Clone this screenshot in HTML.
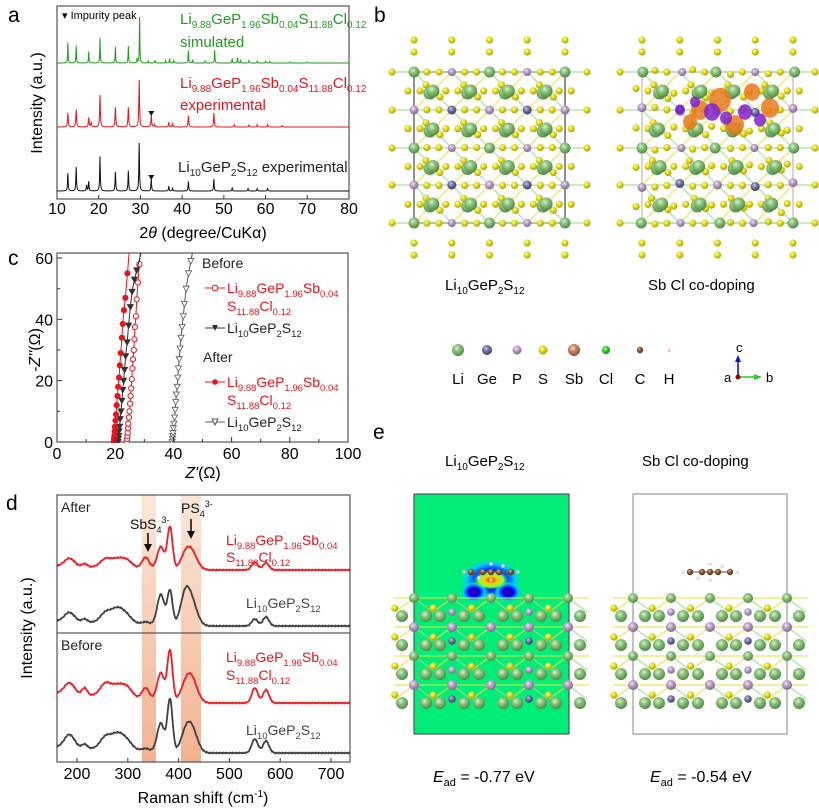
<!DOCTYPE html>
<html><head><meta charset="utf-8"><style>
body{margin:0;background:#fff}
svg{display:block;font-family:"Liberation Sans",Arial,sans-serif}
</style></head><body>
<svg id="fig" width="819" height="808" viewBox="0 0 819 808">
<defs>
<radialGradient id="gLi" cx="40%" cy="35%" r="65%"><stop offset="0" stop-color="#d8f0d0"/><stop offset="0.4" stop-color="#8cc47c"/><stop offset="1" stop-color="#4f8a45"/></radialGradient>
<radialGradient id="gS" cx="40%" cy="35%" r="65%"><stop offset="0" stop-color="#ffffb0"/><stop offset="0.4" stop-color="#e8e020"/><stop offset="1" stop-color="#a8a000"/></radialGradient>
<radialGradient id="gGe" cx="40%" cy="35%" r="65%"><stop offset="0" stop-color="#c8c8e8"/><stop offset="0.45" stop-color="#7070a0"/><stop offset="1" stop-color="#40406a"/></radialGradient>
<radialGradient id="gP" cx="40%" cy="35%" r="65%"><stop offset="0" stop-color="#f0e4f4"/><stop offset="0.45" stop-color="#b89cc4"/><stop offset="1" stop-color="#806890"/></radialGradient>
<radialGradient id="gSb" cx="40%" cy="35%" r="65%"><stop offset="0" stop-color="#f8dcc8"/><stop offset="0.45" stop-color="#c8845c"/><stop offset="1" stop-color="#8a5434"/></radialGradient>
<radialGradient id="gCl" cx="40%" cy="35%" r="65%"><stop offset="0" stop-color="#b0ffb0"/><stop offset="0.45" stop-color="#30d030"/><stop offset="1" stop-color="#109010"/></radialGradient>
<radialGradient id="gC" cx="40%" cy="35%" r="65%"><stop offset="0" stop-color="#d8b8a0"/><stop offset="0.45" stop-color="#845838"/><stop offset="1" stop-color="#503018"/></radialGradient>
<radialGradient id="gH" cx="40%" cy="35%" r="65%"><stop offset="0" stop-color="#fff"/><stop offset="1" stop-color="#e0b8b8"/></radialGradient>
<radialGradient id="cdd" cx="50%" cy="50%" r="50%"><stop offset="0" stop-color="#ff0000"/><stop offset="0.35" stop-color="#ffcc00"/><stop offset="0.7" stop-color="#80ff40"/><stop offset="1" stop-color="#00ee77" stop-opacity="0"/></radialGradient>
<radialGradient id="cdb" cx="50%" cy="50%" r="50%"><stop offset="0" stop-color="#400080"/><stop offset="0.4" stop-color="#0000ff"/><stop offset="0.75" stop-color="#00ccff"/><stop offset="1" stop-color="#00ee77" stop-opacity="0"/></radialGradient>
<linearGradient id="band" x1="0" y1="0" x2="0" y2="1"><stop offset="0" stop-color="#fbe3d3"/><stop offset="1" stop-color="#f0a47c"/></linearGradient>
<clipPath id="clipC"><rect x="57" y="253" width="291" height="190"/></clipPath>
<clipPath id="clipE"><rect x="414" y="494" width="155" height="240"/></clipPath>
</defs>

<text x="8" y="22" font-size="21">a</text>
<text x="374" y="22" font-size="21">b</text>
<text x="8" y="265" font-size="21">c</text>
<text x="6" y="510" font-size="21">d</text>
<text x="373" y="439" font-size="21">e</text>

<!-- Panel a -->
<g id="pa">
<rect x="57" y="6" width="292" height="193" fill="none" stroke="#333" stroke-width="1"/>
<g id="pa-series"></g>
<g id="pa-ticks"></g>
<text x="42" y="103" font-size="16" text-anchor="middle" transform="rotate(-90 42 103)">Intensity (a.u.)</text>
<text x="203" y="238" font-size="16" text-anchor="middle">2<tspan font-style="italic">θ</tspan> (degree/CuKα)</text>
<text x="62" y="19" font-size="11">▾ Impurity peak</text>
<text x="180" y="24" font-size="15" fill="#1f9a1f">Li<tspan font-size="10" dy="4">9.88</tspan><tspan dy="-4">GeP</tspan><tspan font-size="10" dy="4">1.96</tspan><tspan dy="-4">Sb</tspan><tspan font-size="10" dy="4">0.04</tspan><tspan dy="-4">S</tspan><tspan font-size="10" dy="4">11.88</tspan><tspan dy="-4">Cl</tspan><tspan font-size="10" dy="4">0.12</tspan></text>
<text x="180" y="47" font-size="15" fill="#1f9a1f">simulated</text>
<text x="180" y="88" font-size="15" fill="#e8141c">Li<tspan font-size="10" dy="4">9.88</tspan><tspan dy="-4">GeP</tspan><tspan font-size="10" dy="4">1.96</tspan><tspan dy="-4">Sb</tspan><tspan font-size="10" dy="4">0.04</tspan><tspan dy="-4">S</tspan><tspan font-size="10" dy="4">11.88</tspan><tspan dy="-4">Cl</tspan><tspan font-size="10" dy="4">0.12</tspan></text>
<text x="180" y="110" font-size="15" fill="#e8141c">experimental</text>
<text x="178" y="172" font-size="15" fill="#222">Li<tspan font-size="10" dy="4">10</tspan><tspan dy="-4">GeP</tspan><tspan font-size="10" dy="4">2</tspan><tspan dy="-4">S</tspan><tspan font-size="10" dy="4">12</tspan><tspan dy="-4"> experimental</tspan></text>
</g>

<!-- Panel c -->
<g id="pc">
<rect x="57" y="253" width="291" height="189" fill="none" stroke="#333"/>
<g id="pc-series" clip-path="url(#clipC)"></g>
<g id="pc-ticks"></g>
<text x="40" y="350" font-size="16" text-anchor="middle" transform="rotate(-90 40 350)">-<tspan font-style="italic">Z''</tspan>(Ω)</text>
<text x="203" y="478" font-size="16" text-anchor="middle"><tspan font-style="italic">Z'</tspan>(Ω)</text>
<g font-size="14">
<text x="202" y="268" fill="#222">Before</text>
<line x1="205" y1="288" x2="225" y2="288" stroke="#e8141c"/><circle cx="215" cy="288" r="2.8" fill="#fff" stroke="#e8141c"/>
<text x="227" y="293" fill="#e8141c">Li<tspan font-size="9.5" dy="4">9.88</tspan><tspan dy="-4">GeP</tspan><tspan font-size="9.5" dy="4">1.96</tspan><tspan dy="-4">Sb</tspan><tspan font-size="9.5" dy="4">0.04</tspan></text>
<text x="227" y="311" fill="#e8141c">S<tspan font-size="9.5" dy="4">11.88</tspan><tspan dy="-4">Cl</tspan><tspan font-size="9.5" dy="4">0.12</tspan></text>
<line x1="205" y1="328" x2="225" y2="328" stroke="#333"/><path d="M212 325 L218 325 L215 331Z" fill="#333"/>
<text x="227" y="333" fill="#222">Li<tspan font-size="9.5" dy="4">10</tspan><tspan dy="-4">GeP</tspan><tspan font-size="9.5" dy="4">2</tspan><tspan dy="-4">S</tspan><tspan font-size="9.5" dy="4">12</tspan></text>
<text x="203" y="362" fill="#222">After</text>
<line x1="205" y1="382" x2="225" y2="382" stroke="#e8141c"/><circle cx="215" cy="382" r="2.8" fill="#e8141c"/>
<text x="227" y="387" fill="#e8141c">Li<tspan font-size="9.5" dy="4">9.88</tspan><tspan dy="-4">GeP</tspan><tspan font-size="9.5" dy="4">1.96</tspan><tspan dy="-4">Sb</tspan><tspan font-size="9.5" dy="4">0.04</tspan></text>
<text x="227" y="405" fill="#e8141c">S<tspan font-size="9.5" dy="4">11.88</tspan><tspan dy="-4">Cl</tspan><tspan font-size="9.5" dy="4">0.12</tspan></text>
<line x1="205" y1="422" x2="225" y2="422" stroke="#666"/><path d="M212 419 L218 419 L215 425Z" fill="#fff" stroke="#555"/>
<text x="227" y="427" fill="#222">Li<tspan font-size="9.5" dy="4">10</tspan><tspan dy="-4">GeP</tspan><tspan font-size="9.5" dy="4">2</tspan><tspan dy="-4">S</tspan><tspan font-size="9.5" dy="4">12</tspan></text>
</g>
</g>

<!-- Panel d -->
<g id="pd">
<rect x="142" y="495" width="14" height="267" fill="url(#band)" opacity="0.85"/>
<rect x="181" y="495" width="20" height="267" fill="url(#band)" opacity="0.85"/>
<g id="pd-series"></g>
<rect x="57" y="495" width="293" height="267" fill="none" stroke="#333"/>
<line x1="57" y1="633" x2="350" y2="633" stroke="#333"/>
<g id="pd-ticks"></g>
<text x="32" y="628" font-size="16" text-anchor="middle" transform="rotate(-90 32 628)">Intensity (a.u.)</text>
<text x="203" y="803" font-size="16" text-anchor="middle">Raman shift (cm<tspan font-size="10" dy="-6">-1</tspan><tspan dy="6">)</tspan></text>
<text x="61" y="512" font-size="14" fill="#222">After</text>
<text x="61" y="650" font-size="14" fill="#222">Before</text>
<text x="130" y="529" font-size="14" fill="#111">SbS<tspan font-size="9" dy="4">4</tspan><tspan font-size="9" dy="-10">3-</tspan></text>
<text x="181" y="513" font-size="14" fill="#111">PS<tspan font-size="9" dy="4">4</tspan><tspan font-size="9" dy="-10">3-</tspan></text>
<line x1="148" y1="533" x2="148" y2="548" stroke="#111" stroke-width="1.6"/><path d="M144 544 L152 544 L148 552Z" fill="#111"/>
<line x1="191" y1="519" x2="191" y2="535" stroke="#111" stroke-width="1.6"/><path d="M187 531 L195 531 L191 539Z" fill="#111"/>
<text x="226" y="545" font-size="14" fill="#e8141c">Li<tspan font-size="9.5" dy="4">9.88</tspan><tspan dy="-4">GeP</tspan><tspan font-size="9.5" dy="4">1.96</tspan><tspan dy="-4">Sb</tspan><tspan font-size="9.5" dy="4">0.04</tspan></text>
<text x="226" y="562" font-size="14" fill="#e8141c">S<tspan font-size="9.5" dy="4">11.88</tspan><tspan dy="-4">Cl</tspan><tspan font-size="9.5" dy="4">0.12</tspan></text>
<text x="246" y="608" font-size="14" fill="#444">Li<tspan font-size="9.5" dy="4">10</tspan><tspan dy="-4">GeP</tspan><tspan font-size="9.5" dy="4">2</tspan><tspan dy="-4">S</tspan><tspan font-size="9.5" dy="4">12</tspan></text>
<text x="226" y="662" font-size="14" fill="#e8141c">Li<tspan font-size="9.5" dy="4">9.88</tspan><tspan dy="-4">GeP</tspan><tspan font-size="9.5" dy="4">1.96</tspan><tspan dy="-4">Sb</tspan><tspan font-size="9.5" dy="4">0.04</tspan></text>
<text x="226" y="680" font-size="14" fill="#e8141c">S<tspan font-size="9.5" dy="4">11.88</tspan><tspan dy="-4">Cl</tspan><tspan font-size="9.5" dy="4">0.12</tspan></text>
<text x="246" y="735" font-size="14" fill="#444">Li<tspan font-size="9.5" dy="4">10</tspan><tspan dy="-4">GeP</tspan><tspan font-size="9.5" dy="4">2</tspan><tspan dy="-4">S</tspan><tspan font-size="9.5" dy="4">12</tspan></text>
</g>

<!-- Panel b -->
<g id="pb">
<g id="pb-left"></g>
<g id="pb-right"></g>
<text x="445" y="290" font-size="15">Li<tspan font-size="10" dy="4">10</tspan><tspan dy="-4">GeP</tspan><tspan font-size="10" dy="4">2</tspan><tspan dy="-4">S</tspan><tspan font-size="10" dy="4">12</tspan></text>
<text x="648" y="290" font-size="15">Sb Cl co-doping</text>
<g id="legendAtoms"></g>
<g>
<line x1="738" y1="377" x2="738" y2="360" stroke="#1010e0" stroke-width="1.6"/><path d="M735 362 L741 362 L738 355Z" fill="#1010e0"/>
<line x1="738" y1="377" x2="756" y2="377" stroke="#20d020" stroke-width="1.6"/><path d="M754 374 L754 380 L762 377Z" fill="#20d020"/>
<circle cx="738" cy="377" r="2.5" fill="#a00000"/>
<text x="736" y="352" font-size="13">c</text><text x="724" y="382" font-size="13">a</text><text x="766" y="382" font-size="13">b</text>
</g>
</g>

<!-- Panel e -->
<g id="pe">
<text x="445" y="466" font-size="15">Li<tspan font-size="10" dy="4">10</tspan><tspan dy="-4">GeP</tspan><tspan font-size="10" dy="4">2</tspan><tspan dy="-4">S</tspan><tspan font-size="10" dy="4">12</tspan></text>
<text x="642" y="466" font-size="15">Sb Cl co-doping</text>
<rect x="414" y="494" width="155" height="240" fill="#00ee77" stroke="#555" stroke-width="1.2"/>
<g clip-path="url(#clipE)">
<ellipse cx="491" cy="580" rx="32" ry="22" fill="url(#cdb)"/>
<ellipse cx="474" cy="592" rx="14" ry="11" fill="url(#cdb)"/>
<ellipse cx="508" cy="592" rx="14" ry="11" fill="url(#cdb)"/>
<ellipse cx="491" cy="580" rx="18" ry="10" fill="url(#cdd)"/>
</g>
<rect x="633" y="494" width="154" height="240" fill="none" stroke="#999" stroke-width="1.2"/>
<g id="pe-left"></g>
<g id="pe-right"></g>
<text x="433" y="782" font-size="16"><tspan font-style="italic">E</tspan><tspan font-size="11" dy="4">ad</tspan><tspan dy="-4"> = -0.77 eV</tspan></text>
<text x="650" y="782" font-size="16"><tspan font-style="italic">E</tspan><tspan font-size="11" dy="4">ad</tspan><tspan dy="-4"> = -0.54 eV</tspan></text>
</g>
</svg>

<script>
// ===== Panel a data (XRD peak lists: 2theta, relative intensity) =====
const xrdSimPos = [12.6,14.6,17.6,20.3,24.0,27.1,29.2,29.8,31.9,33.5,36.0,37.0,38.0,41.5,42.5,45.5,47.8,52.0,53.3,54.0,56.0,58.0,60.0,61.0,66.0,70.0];
const xrdSimInt = [0.45,0.38,0.25,0.55,0.35,0.37,0.1,1.0,0.04,0.06,0.05,0.1,0.05,0.27,0.07,0.04,0.28,0.1,0.12,0.05,0.05,0.04,0.04,0.03,0.02,0.02];
const xrdDopPos = [12.6,14.6,17.6,18.2,20.3,24.0,27.1,29.7,32.6,33.4,36.8,37.7,41.5,47.6,52.5,56.0,58.0,60.5,64.0];
const xrdDopInt = [0.3,0.37,0.2,0.1,0.68,0.42,0.42,1.0,0.25,0.05,0.1,0.07,0.24,0.3,0.05,0.04,0.05,0.05,0.03];
const xrdLgpsPos = [12.6,14.6,17.1,17.6,20.3,24.0,27.1,29.7,32.6,36.8,37.7,41.5,47.6,52.0,55.8,58.0,60.5];
const xrdLgpsInt = [0.37,0.5,0.12,0.2,0.72,0.4,0.42,1.0,0.25,0.1,0.06,0.2,0.25,0.06,0.05,0.05,0.05];
const xrdImpurity = [32.6];
const xrdTicks = [10,20,30,40,50,60,70,80];

// ===== Panel c data (Nyquist: Z' , -Z'') =====
const eisBeforeDopZr = [24.0,24.1,24.2,24.3,24.4,24.5,24.7,24.9,25.1,25.3,25.5,25.7,25.9,26.1,26.4,26.6,26.8,27.1,27.4,27.8,28.3];
const eisBeforeDopZi = [0,1,2,3,4.5,6,8,10,12.5,15,17.5,20.5,24,27,30,33.5,37.5,41,46.5,52,58];
const eisBeforeLgpsZr = [21.0,21.1,21.2,21.3,21.5,21.7,22.0,22.3,22.6,22.9,23.2,23.6,24.1,24.6,25.2,25.8,26.6,27.4];
const eisBeforeLgpsZi = [0,1,2,3.5,5,7.5,10,13.5,17,20,23.5,28,32.5,38,44,49,53,56];
const eisAfterDopZr = [19.5,19.6,19.7,19.8,19.9,20.1,20.3,20.5,20.8,21.0,21.3,21.6,21.9,22.3,22.6,23.0,23.5,24.2];
const eisAfterDopZi = [0,1,2,3.5,5,7,9,12,15,18,21,25,29,34,38.5,43,47,55];
const eisAfterLgpsZr = [39.6,39.7,39.8,39.9,40.0,40.2,40.4,40.6,40.8,41.0,41.3,41.5,41.7,42.0,42.3,42.6,43.0,43.4,43.8,44.4,45.2,46.0];
const eisAfterLgpsZi = [0,1,2,3,4.5,6,8,10.5,13,15.5,18,21,24,27,30.5,34,37.5,41,45,50,55,59];
const eisXTicks = [0,20,40,60,80,100];
const eisYTicks = [0,20,40,60];

// ===== Panel d data (Raman peak lists: shift, height a.u.) =====
const ramanPeakPos = [185,215,255,280,300,335,365,383,412,425,550,572];
const ramanAfterDop  = [8,3,7,9,5,11,22,42,10,18,8,7];
const ramanAfterLgps = [9,3,8,15,4,2,30,34,24,24,7,9];
const ramanBeforeDop = [11,7,11,12,7,11,27,50,10,24,15,13];
const ramanBeforeLgps= [13,4,10,16,5,2,28,52,12,25,14,12];
const ramanTicks = [200,300,400,500,600,700];

const NS='http://www.w3.org/2000/svg';
function mk(tag, attrs, parent){const e=document.createElementNS(NS,tag);for(const k in attrs)e.setAttribute(k,attrs[k]);parent.appendChild(e);return e;}

// ---- Panel a ----
const axA = v => 57 + (v-10)*(292/70);
const paS = document.getElementById('pa-series');
function xrdPath(pos, inten, base, scale, w){
  let d='';
  for(let t=10;t<=80;t+=0.05){
    let s=0;
    for(let i=0;i<pos.length;i++){const u=(t-pos[i])/w; s+=inten[i]/(1+u*u);}
    const y = base - s*scale;
    d += (d?'L':'M')+axA(t).toFixed(2)+' '+y.toFixed(2);
  }
  return d;
}
let p;
p=mk('path',{d:xrdPath(xrdSimPos,xrdSimInt,63,46,0.07),fill:'none',stroke:'#1f9a1f','stroke-width':1},paS);


p=mk('path',{d:xrdPath(xrdDopPos,xrdDopInt,127,47,0.1),fill:'none',stroke:'#e8141c','stroke-width':1},paS);


p=mk('path',{d:xrdPath(xrdLgpsPos,xrdLgpsInt,191,48,0.09),fill:'none',stroke:'#111','stroke-width':1},paS);


xrdImpurity.forEach(v=>{
  [111,175].forEach(y=>{
    const m=mk('path',{d:`M${axA(v)-3} ${y} L${axA(v)+3} ${y} L${axA(v)} ${y+5}Z`,fill:'#111'},paS);
    
    
  });
});
const paT=document.getElementById('pa-ticks');
xrdTicks.forEach(v=>{
  mk('line',{x1:axA(v),x2:axA(v),y1:199,y2:195,stroke:'#333'},paT);
  const t=mk('text',{x:axA(v),y:214,'font-size':16,'text-anchor':'middle'},paT);
  t.textContent=v;
  
  
});

// ---- Panel c ----
const axCx = v => 57 + v*2.91;
const axCy = v => 442 - v*(184/60);
const pcS=document.getElementById('pc-series');
function eisSeries(zr, zi, color, marker, fill, name){
  const g=mk('g',{},pcS);
  
  
  const n=zr.length, dx=zr[n-1]-zr[n-2], dy=zi[n-1]-zi[n-2];
  const ext=(66-zi[n-1])/dy;
  let d=zr.map((v,i)=>(i?'L':'M')+axCx(v)+' '+axCy(zi[i])).join('')+'L'+axCx(zr[n-1]+dx*ext)+' '+axCy(66);
  mk('path',{d:d,fill:'none',stroke:color,'stroke-width':1},g);
  zr.forEach((v,i)=>{
    const x=axCx(v), y=axCy(zi[i]);
    if(marker==='c') mk('circle',{cx:x,cy:y,r:2.6,fill:fill,stroke:color,'stroke-width':1},g);
    else mk('path',{d:`M${x-3} ${y-2.5} L${x+3} ${y-2.5} L${x} ${y+3}Z`,fill:fill,stroke:color,'stroke-width':0.8},g);
  });
}
eisSeries(eisAfterLgpsZr,eisAfterLgpsZi,'#555','t','#fff','eis-after-lgps');
eisSeries(eisBeforeDopZr,eisBeforeDopZi,'#e8141c','c','#fff','eis-before-doped');
eisSeries(eisBeforeLgpsZr,eisBeforeLgpsZi,'#333','t','#333','eis-before-lgps');
eisSeries(eisAfterDopZr,eisAfterDopZi,'#e8141c','c','#e8141c','eis-after-doped');
const pcT=document.getElementById('pc-ticks');
for(let v=0;v<=100;v+=10){mk('line',{x1:axCx(v),x2:axCx(v),y1:442,y2:v%20?439:437,stroke:'#333'},pcT);}
for(let v=0;v<=60;v+=10){mk('line',{x1:57,x2:v%20?60:62,y1:axCy(v),y2:axCy(v),stroke:'#333'},pcT);}
eisXTicks.forEach(v=>{const t=mk('text',{x:axCx(v),y:459,'font-size':16,'text-anchor':'middle'},pcT);t.textContent=v;
  
  });
eisYTicks.forEach(v=>{const t=mk('text',{x:53,y:axCy(v)+6,'font-size':16,'text-anchor':'end'},pcT);t.textContent=v;
  
  });

// ---- Panel d ----
const axD = v => 77 + (v-200)*0.508;
const pdS=document.getElementById('pd-series');
const ramanWidths=[10,5,10,14,10,7,7,5,9,11,6,6];
function ramanPath(h, baseR, baseL){
  let d='';
  for(let t=160;t<=737;t+=1){
    let s=0;
    for(let i=0;i<ramanPeakPos.length;i++){const u=(t-ramanPeakPos[i])/ramanWidths[i]; s+=h[i]*Math.exp(-0.5*u*u);}
    const b=baseL+(baseR-baseL)*Math.min(1,(t-160)/300);
    const noise=((t*7919)%13-6)*0.08;
    d+=(d?'L':'M')+axD(t).toFixed(2)+' '+(b-s+noise).toFixed(2);
  }
  return d;
}
[[ramanAfterDop,570,566,'#ee1c24','raman-after-doped'],[ramanAfterLgps,626,621,'#404040','raman-after-lgps'],
 [ramanBeforeDop,703,693,'#ee1c24','raman-before-doped'],[ramanBeforeLgps,753,747,'#404040','raman-before-lgps']].forEach(s=>{
  const e=mk('path',{d:ramanPath(s[0],s[1],s[2]),fill:'none',stroke:s[3],'stroke-width':1.8},pdS);
  
  
});
const pdT=document.getElementById('pd-ticks');
ramanTicks.forEach(v=>{
  mk('line',{x1:axD(v),x2:axD(v),y1:762,y2:758,stroke:'#333'},pdT);
  const t=mk('text',{x:axD(v),y:779,'font-size':16,'text-anchor':'middle'},pdT);t.textContent=v;
  
  
});

// ---- Structures (decorative) ----
function atom(g,x,y,r,grad){mk('circle',{cx:x,cy:y,r:r,fill:'url(#'+grad+')'},g);}
function bond(g,x1,y1,x2,y2,c){mk('line',{x1:x1,y1:y1,x2:x2,y2:y2,stroke:c,'stroke-width':1.5,opacity:0.7},g);}
function lattice(g, ox, oy, jit, box){
  const cs=[0,37.8,75.5,113.2,151], rs=[0,38,76,113,151];
  if(box) mk('rect',{x:ox,y:oy,width:151,height:151,fill:'none',stroke:box,'stroke-width':1},g);
  const J=(i)=>jit? ((i*37)%7-3)*0.8 : 0;
  for(let i=0;i<4;i++)for(let j=0;j<4;j++){
    const cx=ox+(cs[i]+cs[i+1])/2, cy=oy+(rs[j]+rs[j+1])/2;
    bond(g,cx,cy,ox+cs[i],oy+rs[j],'#9fd890');bond(g,cx,cy,ox+cs[i+1],oy+rs[j+1],'#9fd890');
    bond(g,cx,cy,ox+cs[i+1],oy+rs[j],'#e8e040');bond(g,cx,cy,ox+cs[i],oy+rs[j+1],'#e8e040');
  }
  rs.forEach(r=>bond(g,ox-22,oy+r,ox+173,oy+r,'#9fd890'));
  let k=0;
  for(let i=0;i<=8;i++)for(let j=0;j<=8;j++){
    if(i%2===0&&j%2===0) continue;
    if(i%2===1&&j%2===1){atom(g,ox+i*18.9-7+J(k++),oy+j*18.9-6,3.6,'gS');atom(g,ox+i*18.9+7,oy+j*18.9+6+J(k++),3.6,'gS');}
    else{atom(g,ox+i*18.9-6,oy+j*18.9+J(k++),3.6,'gS');atom(g,ox+i*18.9+6,oy+j*18.9,3.6,'gS');}
  }
  cs.forEach((c,i)=>{atom(g,ox+c,oy-20,3.6,'gS');atom(g,ox+c,oy-32,3.6,'gS');atom(g,ox+c,oy+171,3.6,'gS');atom(g,ox+c,oy+183,3.6,'gS');});
  rs.forEach(r=>{atom(g,ox-22,oy+r,3.6,'gS');atom(g,ox+173,oy+r,3.6,'gS');});
  rs.forEach((r,j)=>cs.forEach((c,i)=>{
    if(j%2===0) atom(g,ox+c+J(k++),oy+r,i%2===0?5.5:4,i%2===0?'gLi':'gP');
    else atom(g,ox+c,oy+r+J(k++),4.5,i%2===0?'gP':'gGe');
  }));
  for(let i=0;i<4;i++)for(let j=0;j<4;j++){
    const cx=ox+(cs[i]+cs[i+1])/2+J(k++), cy=oy+(rs[j]+rs[j+1])/2;
    atom(g,cx-3,cy+2,6.5,'gLi');atom(g,cx,cy,6.5,'gLi');
  }
}
lattice(document.getElementById('pb-left'),414,72,false,'#222');
const R=document.getElementById('pb-right');
lattice(R,642,72,true,'#aaa');
[[700,110,9,'#e8781c'],[720,100,11,'#e8781c'],[752,92,8,'#e8781c'],[770,108,9,'#e8781c'],[690,122,7,'#e8781c'],[735,125,9,'#e8781c'],
 [712,112,8,'#8020d0'],[695,102,5,'#8020d0'],[745,112,7,'#8020d0'],[760,120,6,'#8020d0'],[680,110,5,'#8020d0'],[726,118,6,'#8020d0']].forEach(b=>{
  mk('ellipse',{cx:b[0],cy:b[1],rx:b[2],ry:b[2]*1.1,fill:b[3],opacity:0.85},R);
});
const LA=document.getElementById('legendAtoms');
[['Li',458,6,'gLi'],['Ge',487,5,'gGe'],['P',517,4.5,'gP'],['S',543,4.5,'gS'],['Sb',574,6,'gSb'],['Cl',606,4,'gCl'],['C',640,3.2,'gC'],['H',669,2,'gH']].forEach(a=>{
  atom(LA,a[1],350,a[2],a[3]);
  const t=mk('text',{x:a[1],y:384,'font-size':15,'text-anchor':'middle'},LA);t.textContent=a[0];
  
  
});
function slab(g, ox, oy){
  const cols=[0,38,77,115,154];
  for(let r=0;r<4;r++){
    const y=oy+r*29;
    bond(g,ox-20,y,ox+175,y,'#e8e040');
    for(let c=0;c<5;c++){
      const x=ox+cols[c];
      bond(g,x,y,x+19,y+14,'#9fd890');bond(g,x,y,x-19,y+14,'#e8e040');
    }
  }
  for(let r=0;r<4;r++){
    const y=oy+r*29;
    for(let c=-1;c<=8;c++){atom(g,ox+c*19.2,y+(c%2?10:0),3.6,'gS');}
    for(let c=0;c<5;c++){atom(g,ox+cols[c]-12,y+18,6,'gLi');atom(g,ox+cols[c]+12,y+18,6,'gLi');}
    for(let c=0;c<5;c++){atom(g,ox+cols[c],y,5,(r%2)?'gP':'gLi');}
    atom(g,ox+38,y+14,3.8,r%2?'gGe':'gP');atom(g,ox+115,y+14,3.8,r%2?'gGe':'gP');
  }
}
slab(document.getElementById('pe-left'),414,598);
slab(document.getElementById('pe-right'),633,598);
function molecule(g,cx,cy){
  bond(g,cx-22,cy,cx+22,cy,'#8a5a3a');
  [-20,-8,0,8,20].forEach(d=>atom(g,cx+d,cy,3.2,'gC'));
  [[-27,0],[27,0],[0,-8],[0,8],[-12,6],[12,-6]].forEach(h=>atom(g,cx+h[0],cy+h[1],1.8,'gH'));
}
molecule(document.getElementById('pe-left'),491,572);
molecule(document.getElementById('pe-right'),710,572);
</script>
</body></html>
